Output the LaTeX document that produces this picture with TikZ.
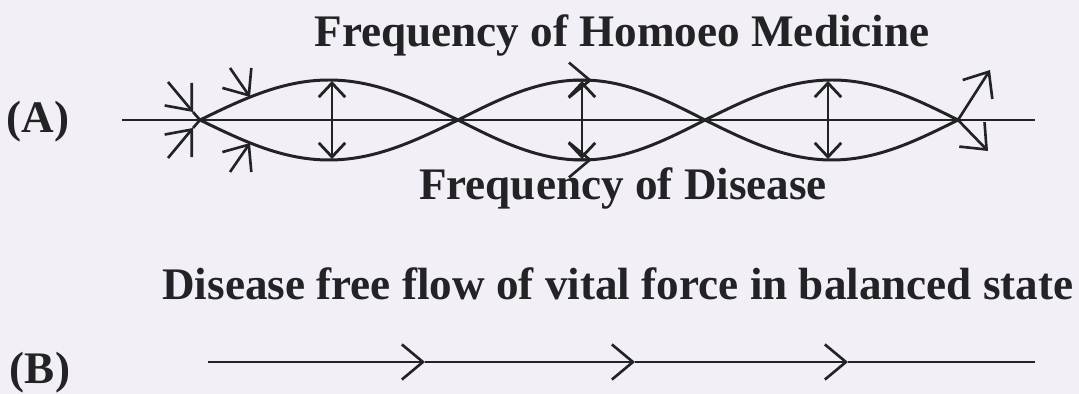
\documentclass[tikz,border=0pt]{standalone}
\usepackage{fontspec}
\setmainfont{Liberation Serif}
\usetikzlibrary{arrows.meta}
\definecolor{bg}{RGB}{242,240,246}
\definecolor{ink}{RGB}{35,35,38}
\tikzset{
  lbl/.style={font=\fontsize{25.7}{31}\selectfont\bfseries, text=ink, inner sep=0pt, anchor=base},
  wave/.style={draw=ink, line width=1.7pt},
  axis/.style={draw=ink, line width=1.1pt},
  bighead/.style={draw=ink, line width=1.5pt, -{Straight Barb[length=12pt,width=20pt,line width=1.5pt]}},
  dbl/.style={draw=ink, line width=1.6pt, {Straight Barb[length=8pt,width=15pt,line width=1.6pt]}-{Straight Barb[length=8pt,width=15pt,line width=1.6pt]}},
  plain/.style={draw=ink, line width=1.5pt},
}
\begin{document}
\begin{tikzpicture}[x=0.02cm,y=-0.02cm]
\fill[bg] (0,0) rectangle (1079,394);
\useasboundingbox (0,0) rectangle (1079,394);

% labels
\node[lbl] (title) at (622,47) {Frequency of Homoeo Medicine};
\node[lbl] (dis) at (623,200) {Frequency of Disease};
\node[lbl] (free) at (618,300) {Disease free flow of vital force in balanced state};
\node[lbl] (A) at (38,133) {(A)};
\node[lbl] (B) at (40,384) {(B)};

% crossing points
\coordinate (c0) at (200,120);
\coordinate (c1) at (458,120);
\coordinate (c2) at (705,120);
\coordinate (c3) at (958,120);
\coordinate (axL) at (122,120);
\coordinate (axR) at (1035,120);

\draw[axis] (axL) -- (axR);

% two sine waves
\draw[wave] (c0) sin (329,80) cos (c1) sin (582,160) cos (c2) sin (832,80) cos (c3);
\draw[wave] (c0) sin (329,160) cos (c1) sin (582,80) cos (c2) sin (832,160) cos (c3);

% vertical double arrows
\coordinate (v1t) at (332,81); \coordinate (v1b) at (332,159);
\coordinate (v2t) at (582,81); \coordinate (v2b) at (582,159);
\coordinate (v3t) at (828,81); \coordinate (v3b) at (828,159);
\draw[dbl] (v1t) -- (v1b);
\draw[dbl] (v2t) -- (v2b);
\draw[dbl] (v3t) -- (v3b);

% arrowheads along lobe 2 peaks
\coordinate (p2ta) at (574,80.2); \coordinate (p2tb) at (592,80.3);
\coordinate (p2ba) at (574,159.8); \coordinate (p2bb) at (592,159.7);
\draw[bighead] (p2ta) -- (p2tb);
\draw[bighead] (p2ba) -- (p2bb);

% incoming arrows at left crossing
\coordinate (in1s) at (168,82); \coordinate (in1m) at (193,112);
\coordinate (in2s) at (168,158); \coordinate (in2m) at (193,128);
\draw[bighead] (in1s) -- (in1m);
\draw[plain] (in1m) -- (c0);
\draw[bighead] (in2s) -- (in2m);
\draw[plain] (in2m) -- (c0);

\coordinate (in3s) at (230,68); \coordinate (in3e) at (250,97);
\coordinate (in4s) at (230,172); \coordinate (in4e) at (250,143);
\draw[bighead] (in3s) -- (in3e);
\draw[bighead] (in4s) -- (in4e);

% outgoing arrows at right
\coordinate (out1) at (990,70);
\coordinate (out2) at (988,151);
\draw[bighead] (c3) -- (out1);
\draw[bighead] (c3) -- (out2);

% (B) line
\coordinate (b0) at (208,362);
\coordinate (b1) at (425,362);
\coordinate (b2) at (635,362);
\coordinate (b3) at (848,362);
\coordinate (b4) at (1035,362);
\draw[bighead] (b0) -- (b1);
\draw[bighead] (b1) -- (b2);
\draw[bighead] (b2) -- (b3);
\draw[plain] (b3) -- (b4);
\end{tikzpicture}
\end{document}
